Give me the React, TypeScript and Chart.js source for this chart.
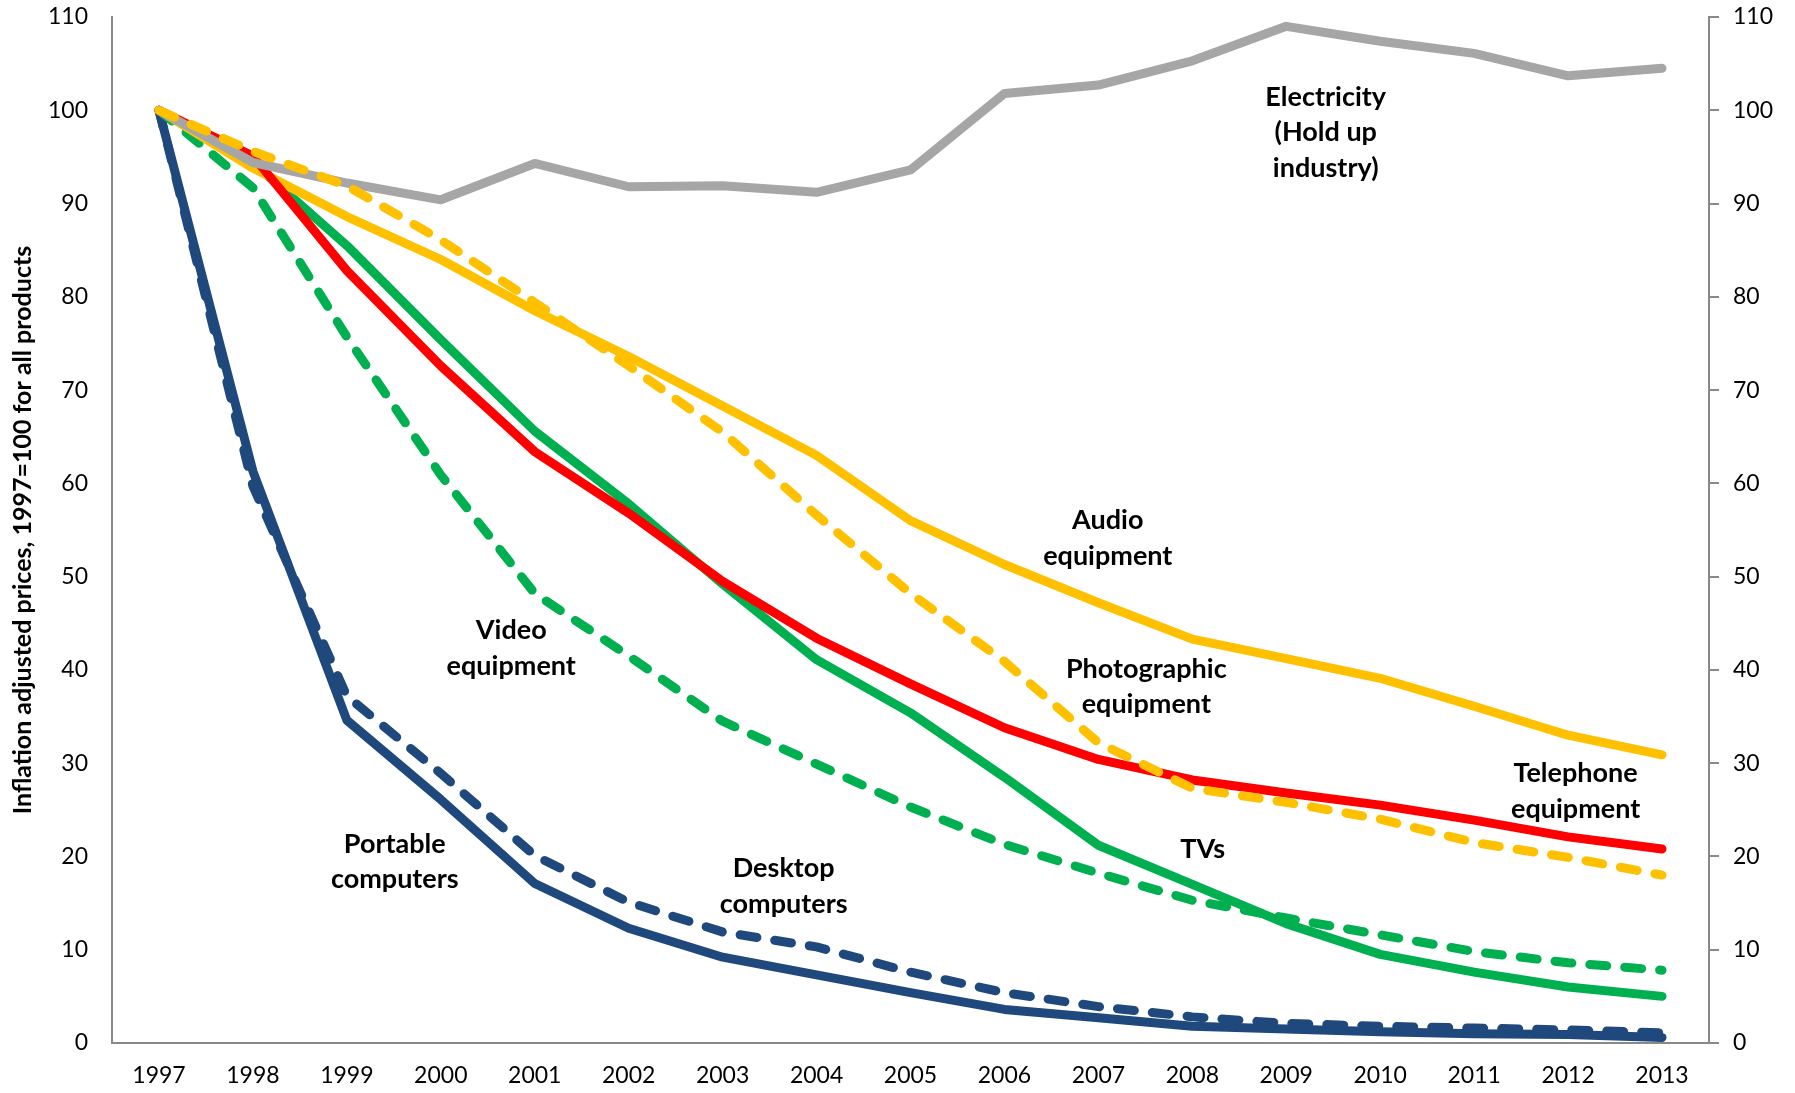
import React, { useEffect, useRef } from 'react';
import { Chart, registerables } from 'chart.js';

Chart.register(...registerables);

const years = ['1997', '1998', '1999', '2000', '2001', '2002', '2003', '2004', '2005', '2006', '2007', '2008', '2009', '2010', '2011', '2012', '2013'];

const electricity = [100, 94.4, 92.2, 90.4, 94.3, 91.8, 91.9, 91.2, 93.6, 101.8, 102.7, 105.3, 109.0, 107.4, 106.1, 103.7, 104.5];
const audioEquipment = [100, 93.8, 88.6, 84.0, 78.5, 73.6, 68.3, 63.0, 56.0, 51.3, 47.2, 43.3, 41.2, 39.1, 36.1, 33.0, 30.9];
const photographicEquipment = [100, 95.6, 91.9, 86.1, 79.4, 72.6, 65.5, 56.6, 48.2, 40.9, 32.2, 27.3, 25.8, 24.0, 21.5, 19.9, 18.0];
const telephoneEquipment = [100, 95.1, 82.8, 72.6, 63.4, 56.8, 49.5, 43.4, 38.5, 33.8, 30.4, 28.2, 26.8, 25.5, 23.9, 22.1, 20.8];
const tvs = [100, 94.4, 85.5, 75.4, 65.6, 57.8, 49.2, 41.1, 35.4, 28.5, 21.2, 17.0, 12.8, 9.5, 7.6, 6.0, 5.0];
const videoEquipment = [100, 91.7, 75.7, 60.9, 48.2, 41.5, 34.5, 29.9, 25.3, 21.3, 18.2, 15.3, 13.4, 11.6, 9.8, 8.6, 7.8];
const portableComputers = [100, 61.3, 34.6, 26.1, 17.1, 12.3, 9.2, 7.3, 5.4, 3.6, 2.7, 1.8, 1.5, 1.2, 1.0, 0.9, 0.6];
const desktopComputers = [100, 59.7, 37.2, 28.9, 20.1, 15.1, 11.9, 10.3, 7.6, 5.4, 3.9, 2.8, 2.1, 1.8, 1.6, 1.4, 1.1];

const yTicks = { min: 0, max: 110, step: 10 };
const yAxisTitle = 'Inflation adjusted prices, 1997=100 for all products';

// Annotation labels positioned in data coordinates (category index, value)
const annotationLabels = [
  { lines: ['Electricity', '(Hold up', 'industry)'], at: 12.42, value: 97.6 },
  { lines: ['Audio', 'equipment'], at: 10.1, value: 54.1 },
  { lines: ['Video', 'equipment'], at: 3.75, value: 42.3 },
  { lines: ['Photographic', 'equipment'], at: 10.51, value: 38.2 },
  { lines: ['Telephone', 'equipment'], at: 15.08, value: 27.0 },
  { lines: ['TVs'], at: 11.11, value: 20.8 },
  { lines: ['Portable', 'computers'], at: 2.51, value: 19.45 },
  { lines: ['Desktop', 'computers'], at: 6.65, value: 16.8 },
];

const FONT = 'Lato';
const AXIS_GRAY = '#898989';

const annotationPlugin = {
  id: 'textAnnotations',
  afterDatasetsDraw(chart: any) {
    const { ctx, scales } = chart;
    const x = scales.x;
    const y = scales.y;
    ctx.save();
    ctx.font = `bold 27px ${FONT}`;
    ctx.fillStyle = '#000000';
    ctx.textAlign = 'center';
    ctx.textBaseline = 'middle';
    const gap = 35.5;
    for (const a of annotationLabels) {
      const cx = x.getPixelForValue(a.at);
      const cy = y.getPixelForValue(a.value);
      const n = a.lines.length;
      a.lines.forEach((t, i) => {
        ctx.fillText(t, cx, cy + (i - (n - 1) / 2) * gap);
      });
    }
    ctx.restore();
  },
};

export default function App() {
  const canvasRef = useRef<HTMLCanvasElement | null>(null);

  useEffect(() => {
    if (!canvasRef.current) return;
    const W = 9;
    const dash = [17, 18];
    const line = (label: string, data: number[], color: string, dashed: boolean, order: number) => ({
      label,
      data,
      borderColor: color,
      backgroundColor: color,
      borderWidth: W,
      borderDash: dashed ? dash : [],
      borderCapStyle: 'round' as const,
      borderJoinStyle: 'round' as const,
      pointRadius: 0,
      pointHoverRadius: 0,
      tension: 0,
      fill: false,
      order,
    });

    const chart = new Chart(canvasRef.current, {
      type: 'line',
      data: {
        labels: years,
        datasets: [
          line('Portable computers', portableComputers, '#1F497D', false, 8),
          line('Desktop computers', desktopComputers, '#1F497D', true, 7),
          line('Video equipment', videoEquipment, '#00B050', true, 6),
          line('TVs', tvs, '#00B050', false, 5),
          line('Audio equipment', audioEquipment, '#FFC000', false, 4),
          line('Telephone equipment', telephoneEquipment, '#FF0000', false, 3),
          line('Electricity', electricity, '#A6A6A6', false, 2),
          line('Photographic equipment', photographicEquipment, '#FFC000', true, 1),
        ],
      },
      options: {
        animation: false,
        responsive: false,
        devicePixelRatio: 1,
        layout: { padding: { top: 17, left: 0, right: 0, bottom: 0 } },
        plugins: {
          legend: { display: false },
          tooltip: { enabled: false },
        },
        scales: {
          x: {
            type: 'category',
            offset: true,
            grid: { display: false, drawTicks: false },
            border: { display: true, color: AXIS_GRAY, width: 2 },
            ticks: {
              color: '#000000',
              font: { family: FONT, size: 23 },
              padding: 19,
              maxRotation: 0,
              autoSkip: false,
            },
            afterFit: (scale: any) => {
              scale.height = 50;
              scale.paddingLeft = 0;
              scale.paddingRight = 0;
            },
          },
          y: {
            position: 'left',
            min: yTicks.min,
            max: yTicks.max,
            grid: { display: false, drawTicks: false },
            border: { display: true, color: AXIS_GRAY, width: 2 },
            ticks: {
              stepSize: yTicks.step,
              color: '#000000',
              font: { family: FONT, size: 23 },
              padding: 24,
            },
            title: {
              display: true,
              text: yAxisTitle,
              color: '#000000',
              font: { family: FONT, size: 25, weight: 'bold' },
              padding: { top: 8, bottom: 0 },
            },
            afterFit: (scale: any) => {
              scale.width = 112;
              scale.paddingTop = 0;
              scale.paddingBottom = 0;
            },
          },
          y1: {
            position: 'right',
            min: yTicks.min,
            max: yTicks.max,
            grid: { display: true, drawOnChartArea: false, drawTicks: true, tickLength: 10, color: AXIS_GRAY, lineWidth: 2 },
            border: { display: true, color: AXIS_GRAY, width: 2 },
            ticks: {
              stepSize: yTicks.step,
              color: '#000000',
              font: { family: FONT, size: 23 },
              padding: 14,
            },
            afterFit: (scale: any) => {
              scale.width = 86;
              scale.paddingTop = 0;
              scale.paddingBottom = 0;
            },
          },
        },
      },
      plugins: [annotationPlugin],
    });

    return () => {
      chart.destroy();
    };
  }, []);

  return (
    <div style={{ position: 'fixed', left: 0, top: 0, width: 1795, height: 1093, background: '#ffffff' }}>
      <canvas ref={canvasRef} width={1795} height={1093} style={{ width: 1795, height: 1093, display: 'block' }} />
    </div>
  );
}
